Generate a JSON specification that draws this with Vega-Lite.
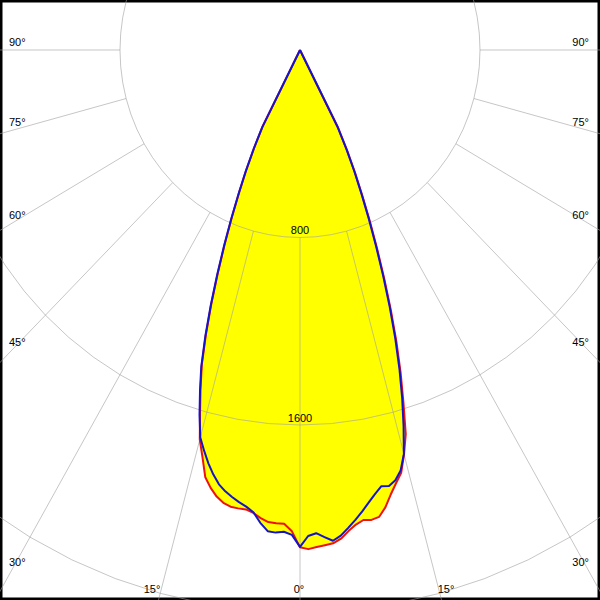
{
  "$schema": "https://vega.github.io/schema/vega-lite/v6.json",
  "width": 600,
  "height": 600,
  "autosize": {"type": "fit", "contains": "padding"},
  "padding": 0,
  "background": "white",
  "config": {
    "view": {"stroke": "black", "strokeWidth": 5},
    "text": {"font": "Liberation Sans", "fontSize": 11, "color": "black"}
  },
  "datasets": {
    "curves": [
      {"plane": "C0-C180", "angle": -28, "I": 0},
      {"plane": "C0-C180", "angle": -27, "I": 365},
      {"plane": "C0-C180", "angle": -26, "I": 466},
      {"plane": "C0-C180", "angle": -25, "I": 565},
      {"plane": "C0-C180", "angle": -24, "I": 664},
      {"plane": "C0-C180", "angle": -23, "I": 775},
      {"plane": "C0-C180", "angle": -22, "I": 893},
      {"plane": "C0-C180", "angle": -21, "I": 1019},
      {"plane": "C0-C180", "angle": -20, "I": 1152},
      {"plane": "C0-C180", "angle": -19, "I": 1285},
      {"plane": "C0-C180", "angle": -18, "I": 1412},
      {"plane": "C0-C180", "angle": -17, "I": 1512},
      {"plane": "C0-C180", "angle": -16, "I": 1612},
      {"plane": "C0-C180", "angle": -15, "I": 1721},
      {"plane": "C0-C180", "angle": -14, "I": 1791},
      {"plane": "C0-C180", "angle": -13, "I": 1871},
      {"plane": "C0-C180", "angle": -12, "I": 1910},
      {"plane": "C0-C180", "angle": -11, "I": 1941},
      {"plane": "C0-C180", "angle": -10, "I": 1962},
      {"plane": "C0-C180", "angle": -9, "I": 1973},
      {"plane": "C0-C180", "angle": -8, "I": 1975},
      {"plane": "C0-C180", "angle": -7, "I": 1975},
      {"plane": "C0-C180", "angle": -6, "I": 1986},
      {"plane": "C0-C180", "angle": -5, "I": 2005},
      {"plane": "C0-C180", "angle": -4, "I": 2019},
      {"plane": "C0-C180", "angle": -3, "I": 2022},
      {"plane": "C0-C180", "angle": -2, "I": 2023},
      {"plane": "C0-C180", "angle": -1, "I": 2054},
      {"plane": "C0-C180", "angle": 0, "I": 2122},
      {"plane": "C0-C180", "angle": 1, "I": 2130},
      {"plane": "C0-C180", "angle": 2, "I": 2122},
      {"plane": "C0-C180", "angle": 3, "I": 2116},
      {"plane": "C0-C180", "angle": 4, "I": 2110},
      {"plane": "C0-C180", "angle": 5, "I": 2093},
      {"plane": "C0-C180", "angle": 6, "I": 2064},
      {"plane": "C0-C180", "angle": 7, "I": 2040},
      {"plane": "C0-C180", "angle": 8, "I": 2025},
      {"plane": "C0-C180", "angle": 9, "I": 2030},
      {"plane": "C0-C180", "angle": 10, "I": 2023},
      {"plane": "C0-C180", "angle": 11, "I": 1988},
      {"plane": "C0-C180", "angle": 12, "I": 1939},
      {"plane": "C0-C180", "angle": 13, "I": 1897},
      {"plane": "C0-C180", "angle": 14, "I": 1859},
      {"plane": "C0-C180", "angle": 15, "I": 1786},
      {"plane": "C0-C180", "angle": 16, "I": 1705},
      {"plane": "C0-C180", "angle": 17, "I": 1572},
      {"plane": "C0-C180", "angle": 18, "I": 1447},
      {"plane": "C0-C180", "angle": 19, "I": 1316},
      {"plane": "C0-C180", "angle": 20, "I": 1180},
      {"plane": "C0-C180", "angle": 21, "I": 1045},
      {"plane": "C0-C180", "angle": 22, "I": 915},
      {"plane": "C0-C180", "angle": 23, "I": 796},
      {"plane": "C0-C180", "angle": 24, "I": 683},
      {"plane": "C0-C180", "angle": 25, "I": 581},
      {"plane": "C0-C180", "angle": 26, "I": 480},
      {"plane": "C0-C180", "angle": 27, "I": 376},
      {"plane": "C0-C180", "angle": 28, "I": 0},
      {"plane": "C90-C270", "angle": -28, "I": 0},
      {"plane": "C90-C270", "angle": -27, "I": 368},
      {"plane": "C90-C270", "angle": -26, "I": 470},
      {"plane": "C90-C270", "angle": -25, "I": 570},
      {"plane": "C90-C270", "angle": -24, "I": 670},
      {"plane": "C90-C270", "angle": -23, "I": 782},
      {"plane": "C90-C270", "angle": -22, "I": 900},
      {"plane": "C90-C270", "angle": -21, "I": 1027},
      {"plane": "C90-C270", "angle": -20, "I": 1160},
      {"plane": "C90-C270", "angle": -19, "I": 1293},
      {"plane": "C90-C270", "angle": -18, "I": 1420},
      {"plane": "C90-C270", "angle": -17, "I": 1520},
      {"plane": "C90-C270", "angle": -16, "I": 1620},
      {"plane": "C90-C270", "angle": -15, "I": 1712},
      {"plane": "C90-C270", "angle": -14, "I": 1762},
      {"plane": "C90-C270", "angle": -13, "I": 1810},
      {"plane": "C90-C270", "angle": -12, "I": 1852},
      {"plane": "C90-C270", "angle": -11, "I": 1888},
      {"plane": "C90-C270", "angle": -10, "I": 1912},
      {"plane": "C90-C270", "angle": -9, "I": 1931},
      {"plane": "C90-C270", "angle": -8, "I": 1948},
      {"plane": "C90-C270", "angle": -7, "I": 1963},
      {"plane": "C90-C270", "angle": -6, "I": 1983},
      {"plane": "C90-C270", "angle": -5, "I": 2025},
      {"plane": "C90-C270", "angle": -4, "I": 2058},
      {"plane": "C90-C270", "angle": -3, "I": 2062},
      {"plane": "C90-C270", "angle": -2, "I": 2057},
      {"plane": "C90-C270", "angle": -1, "I": 2069},
      {"plane": "C90-C270", "angle": 0, "I": 2120},
      {"plane": "C90-C270", "angle": 1, "I": 2074},
      {"plane": "C90-C270", "angle": 2, "I": 2063},
      {"plane": "C90-C270", "angle": 3, "I": 2081},
      {"plane": "C90-C270", "angle": 4, "I": 2099},
      {"plane": "C90-C270", "angle": 5, "I": 2080},
      {"plane": "C90-C270", "angle": 6, "I": 2050},
      {"plane": "C90-C270", "angle": 7, "I": 2020},
      {"plane": "C90-C270", "angle": 8, "I": 1988},
      {"plane": "C90-C270", "angle": 9, "I": 1954},
      {"plane": "C90-C270", "angle": 10, "I": 1923},
      {"plane": "C90-C270", "angle": 11, "I": 1896},
      {"plane": "C90-C270", "angle": 12, "I": 1902},
      {"plane": "C90-C270", "angle": 13, "I": 1884},
      {"plane": "C90-C270", "angle": 14, "I": 1849},
      {"plane": "C90-C270", "angle": 15, "I": 1784},
      {"plane": "C90-C270", "angle": 16, "I": 1670},
      {"plane": "C90-C270", "angle": 17, "I": 1553},
      {"plane": "C90-C270", "angle": 18, "I": 1430},
      {"plane": "C90-C270", "angle": 19, "I": 1300},
      {"plane": "C90-C270", "angle": 20, "I": 1165},
      {"plane": "C90-C270", "angle": 21, "I": 1030},
      {"plane": "C90-C270", "angle": 22, "I": 902},
      {"plane": "C90-C270", "angle": 23, "I": 784},
      {"plane": "C90-C270", "angle": 24, "I": 672},
      {"plane": "C90-C270", "angle": 25, "I": 572},
      {"plane": "C90-C270", "angle": 26, "I": 472},
      {"plane": "C90-C270", "angle": 27, "I": 370},
      {"plane": "C90-C270", "angle": 28, "I": 0}
    ],
    "rings": [
      {"ring": 800, "a": [-180,-175,-170,-165,-160,-155,-150,-145,-140,-135,-130,-125,-120,-115,-110,-105,-100,-95,-90,-85,-80,-75,-70,-65,-60,-55,-50,-45,-40,-35,-30,-25,-20,-15,-10,-5,0,5,10,15,20,25,30,35,40,45,50,55,60,65,70,75,80,85,90,95,100,105,110,115,120,125,130,135,140,145,150,155,160,165,170,175,180]},
      {"ring": 1600, "a": [-180,-175,-170,-165,-160,-155,-150,-145,-140,-135,-130,-125,-120,-115,-110,-105,-100,-95,-90,-85,-80,-75,-70,-65,-60,-55,-50,-45,-40,-35,-30,-25,-20,-15,-10,-5,0,5,10,15,20,25,30,35,40,45,50,55,60,65,70,75,80,85,90,95,100,105,110,115,120,125,130,135,140,145,150,155,160,165,170,175,180]},
      {"ring": 2400, "a": [-180,-175,-170,-165,-160,-155,-150,-145,-140,-135,-130,-125,-120,-115,-110,-105,-100,-95,-90,-85,-80,-75,-70,-65,-60,-55,-50,-45,-40,-35,-30,-25,-20,-15,-10,-5,0,5,10,15,20,25,30,35,40,45,50,55,60,65,70,75,80,85,90,95,100,105,110,115,120,125,130,135,140,145,150,155,160,165,170,175,180]}
    ],
    "labels": [
      {"deg": -90, "t": "90°"}, {"deg": -75, "t": "75°"}, {"deg": -60, "t": "60°"},
      {"deg": -45, "t": "45°"}, {"deg": -30, "t": "30°"}, {"deg": -15, "t": "15°"},
      {"deg": 0, "t": "0°"}, {"deg": 15, "t": "15°"}, {"deg": 30, "t": "30°"},
      {"deg": 45, "t": "45°"}, {"deg": 60, "t": "60°"}, {"deg": 75, "t": "75°"},
      {"deg": 90, "t": "90°"}
    ]
  },
  "layer": [
    {
      "data": {"name": "curves"},
      "transform": [
        {"calculate": "datum.I*sin(datum.angle*PI/180)", "as": "x"},
        {"calculate": "-datum.I*cos(datum.angle*PI/180)", "as": "y"}
      ],
      "mark": {"type": "line", "fill": "#ffff00", "filled": true, "stroke": null, "strokeWidth": 0},
      "encoding": {
        "x": {"field": "x", "type": "quantitative", "scale": {"domain": [-1333.3, 1333.3], "nice": false, "zero": false}, "axis": null},
        "y": {"field": "y", "type": "quantitative", "scale": {"domain": [-2346.7, 213.3], "nice": false, "zero": false}, "axis": null},
        "detail": {"field": "plane", "type": "nominal"},
        "order": {"field": "angle", "type": "quantitative"}
      }
    },
    {
      "data": {"name": "rings"},
      "transform": [
        {"flatten": ["a"]},
        {"calculate": "datum.ring*sin(datum.a*PI/180)", "as": "x"},
        {"calculate": "-datum.ring*cos(datum.a*PI/180)", "as": "y"}
      ],
      "mark": {"type": "line", "stroke": "#a0a0a0", "strokeOpacity": 0.6, "strokeWidth": 1, "clip": true},
      "encoding": {
        "x": {"field": "x", "type": "quantitative"},
        "y": {"field": "y", "type": "quantitative"},
        "detail": {"field": "ring", "type": "nominal"},
        "order": {"field": "a", "type": "quantitative"}
      }
    },
    {
      "data": {"name": "labels"},
      "transform": [
        {"calculate": "800*sin(datum.deg*PI/180)", "as": "x"},
        {"calculate": "-800*cos(datum.deg*PI/180)", "as": "y"},
        {"calculate": "5000*sin(datum.deg*PI/180)", "as": "x2"},
        {"calculate": "-5000*cos(datum.deg*PI/180)", "as": "y2"}
      ],
      "mark": {"type": "rule", "stroke": "#a0a0a0", "strokeOpacity": 0.6, "strokeWidth": 1, "clip": true},
      "encoding": {
        "x": {"field": "x", "type": "quantitative"},
        "y": {"field": "y", "type": "quantitative"},
        "x2": {"field": "x2"},
        "y2": {"field": "y2"}
      }
    },
    {
      "data": {"name": "rings"},
      "transform": [
        {"filter": "datum.ring < 2400"},
        {"calculate": "0", "as": "x"},
        {"calculate": "-datum.ring", "as": "y"}
      ],
      "mark": {"type": "text", "align": "center", "baseline": "alphabetic", "dy": -3},
      "encoding": {
        "x": {"field": "x", "type": "quantitative"},
        "y": {"field": "y", "type": "quantitative"},
        "text": {"field": "ring", "type": "quantitative"}
      }
    },
    {
      "data": {"name": "curves"},
      "transform": [
        {"filter": "datum.plane == 'C0-C180'"},
        {"calculate": "datum.I*sin(datum.angle*PI/180)", "as": "x"},
        {"calculate": "-datum.I*cos(datum.angle*PI/180)", "as": "y"}
      ],
      "mark": {"type": "line", "stroke": "#ee1111", "strokeWidth": 2, "strokeJoin": "round"},
      "encoding": {
        "x": {"field": "x", "type": "quantitative"},
        "y": {"field": "y", "type": "quantitative"},
        "order": {"field": "angle", "type": "quantitative"}
      }
    },
    {
      "data": {"name": "curves"},
      "transform": [
        {"filter": "datum.plane == 'C90-C270'"},
        {"calculate": "datum.I*sin(datum.angle*PI/180)", "as": "x"},
        {"calculate": "-datum.I*cos(datum.angle*PI/180)", "as": "y"}
      ],
      "mark": {"type": "line", "stroke": "#1414cc", "strokeWidth": 2, "strokeJoin": "round"},
      "encoding": {
        "x": {"field": "x", "type": "quantitative"},
        "y": {"field": "y", "type": "quantitative"},
        "order": {"field": "angle", "type": "quantitative"}
      }
    },
    {
      "data": {"name": "labels"},
      "transform": [
        {"filter": "datum.deg <= -30 || datum.deg == 15"},
        {"calculate": "min(1280/max(abs(sin(datum.deg*PI/180)),1e-9), 2333.9/max(cos(datum.deg*PI/180),1e-9))", "as": "r"},
        {"calculate": "datum.r*sin(datum.deg*PI/180)", "as": "x"},
        {"calculate": "-datum.r*cos(datum.deg*PI/180)", "as": "y"}
      ],
      "mark": {"type": "text", "align": "left", "baseline": "alphabetic", "dx": -3, "dy": -4},
      "encoding": {
        "x": {"field": "x", "type": "quantitative"},
        "y": {"field": "y", "type": "quantitative"},
        "text": {"field": "t"}
      }
    },
    {
      "data": {"name": "labels"},
      "transform": [
        {"filter": "datum.deg >= 30 || datum.deg == -15"},
        {"calculate": "min(1280/max(abs(sin(datum.deg*PI/180)),1e-9), 2333.9/max(cos(datum.deg*PI/180),1e-9))", "as": "r"},
        {"calculate": "datum.r*sin(datum.deg*PI/180)", "as": "x"},
        {"calculate": "-datum.r*cos(datum.deg*PI/180)", "as": "y"}
      ],
      "mark": {"type": "text", "align": "right", "baseline": "alphabetic", "dx": 1, "dy": -4},
      "encoding": {
        "x": {"field": "x", "type": "quantitative"},
        "y": {"field": "y", "type": "quantitative"},
        "text": {"field": "t"}
      }
    },
    {
      "data": {"name": "labels"},
      "transform": [
        {"filter": "datum.deg == 0"},
        {"calculate": "0", "as": "x"},
        {"calculate": "-2333.9", "as": "y"}
      ],
      "mark": {"type": "text", "align": "center", "baseline": "alphabetic", "dx": -1, "dy": -4},
      "encoding": {
        "x": {"field": "x", "type": "quantitative"},
        "y": {"field": "y", "type": "quantitative"},
        "text": {"field": "t"}
      }
    }
  ]
}
